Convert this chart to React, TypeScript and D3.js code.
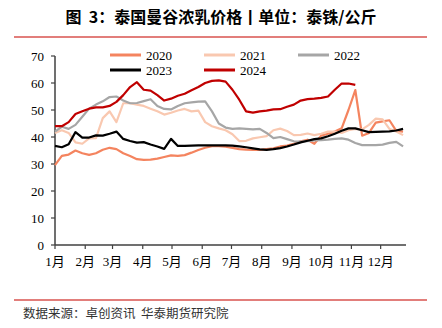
import React from "react";
import * as d3 from "d3";

const months = ["1月", "2月", "3月", "4月", "5月", "6月", "7月", "8月", "9月", "10月", "11月", "12月"];
const yTicks = [0, 10, 20, 30, 40, 50, 60, 70];
const seriesNames = ["2020", "2021", "2022", "2023", "2024"];

// weekly observations, week 0 = Jan 1
const v2020 = [29.6, 33, 33.5, 35, 34, 33.4, 34, 35.3, 36, 35.5, 34, 33, 31.8, 31.5, 31.6, 32, 32.6, 33.2, 33, 33.3, 34.2, 35.2, 36, 36.6, 36.6, 36.4, 36, 35.5, 35.3, 35.2, 35.2, 35.5, 35.8, 36.5, 36.8, 37.5, 38.4, 39, 37.5, 40.5, 41.2, 42, 43.2, 50, 57.4, 40.5, 41.5, 45.3, 45.8, 46.2, 42.3, 42];
const v2021 = [41.5, 42.5, 41.5, 38, 37.5, 39.5, 39.6, 47, 49.5, 45.5, 52.5, 52.5, 52, 51.5, 50.5, 49.5, 48.3, 49, 49.8, 50.4, 49.5, 49.8, 45.5, 44, 43.2, 42.5, 41, 38.5, 38.6, 39.5, 39.9, 40.3, 42.5, 43.1, 42.2, 40.7, 40.8, 41.3, 40.7, 41.2, 42, 42, 41.5, 42.5, 43, 42.8, 44.5, 46.8, 46.5, 43, 42, 40.7];
const v2022 = [42, 43.8, 43, 44.5, 47.5, 50.5, 52, 53.2, 54.8, 55, 53.5, 52.5, 52.6, 53.3, 54, 51.5, 50.4, 50.2, 51.5, 52.5, 52.8, 53.1, 53.2, 49.5, 45, 43.5, 43, 43.2, 43, 42.8, 43, 41.5, 39.6, 40, 39.2, 38.4, 38.3, 38.5, 38.7, 38.8, 39, 39.3, 39.5, 39, 37.8, 37, 37, 37, 37.2, 37.8, 38.2, 36.5];
const v2023 = [36.7, 36.2, 37.3, 41.8, 39.8, 39.8, 40.6, 40.5, 41.2, 42, 39.3, 38.5, 37.9, 38.1, 37.2, 36.5, 35.6, 39.3, 36.7, 36.7, 36.8, 36.9, 36.9, 36.9, 36.9, 36.9, 36.8, 36.5, 36.2, 35.8, 35.4, 35.2, 35.5, 35.9, 36.5, 37.2, 38, 38.6, 39.2, 39.5, 40.3, 41.2, 42.3, 43.2, 43.2, 42.5, 41.8, 41.9, 42, 42.1, 42.4, 43];
const v2024 = [44, 44, 45.5, 48.5, 49.5, 50.5, 51, 51, 51.5, 53, 55.5, 58.5, 60.3, 57.5, 57.2, 55.5, 53.5, 54.2, 55.3, 56, 57.3, 58.5, 60, 60.8, 61, 60.5, 57.5, 53.8, 49.5, 49, 49.5, 49.8, 50.2, 50.3, 51.2, 52, 53.5, 54, 54.2, 54.5, 55, 57.5, 59.8, 59.8, 59.3];

const colors = ["#F4845F", "#F9C8B0", "#A6A6A6", "#000000", "#C00000"];
const allValues = [v2020, v2021, v2022, v2023, v2024];

export default function App() {
  const W = 442, H = 328;
  const x = d3.scaleTime().domain([new Date(2021, 0, 1), new Date(2021, 11, 27)]).range([55, 406]);
  const y = d3.scaleLinear().domain([0, 70]).range([245, 56]);
  const dayDate = (w: number) => d3.timeDay.offset(new Date(2021, 0, 1), w * 7);
  const line = d3.line<number>().x((_, i) => x(dayDate(i))).y((v) => y(v));
  const monthDates = months.map((_, i) => new Date(2021, i, 1));
  const serif = "'Liberation Serif', 'Times New Roman', 'Noto Sans CJK SC', serif";
  const axisColor = "#404040";

  const legendPos = [
    { lx: 110, ly: 55 },
    { lx: 204, ly: 55 },
    { lx: 298, ly: 55 },
    { lx: 110, ly: 70 },
    { lx: 204, ly: 70 },
  ];

  return (
    <svg width={W} height={H} style={{ position: "absolute", left: 0, top: 0, background: "#fff" }}>
      <text x={221} y={23} textAnchor="middle" fontFamily="'Noto Sans CJK SC', sans-serif" fontWeight="bold" fontSize={16} fill="#000" style={{ whiteSpace: "pre" }}>
        {"图  3：泰国曼谷浓乳价格丨单位：泰铢/公斤"}
      </text>
      <line x1={14} x2={427} y1={37} y2={37} stroke="#D9534F" strokeWidth={1.5} />
      <line x1={14} x2={427} y1={300} y2={300} stroke="#D9534F" strokeWidth={1.5} />
      <text x={23} y={318} fontFamily="'Noto Sans CJK SC', sans-serif" fontSize={12.5} fill="#333" style={{ whiteSpace: "pre" }}>
        {"数据来源：卓创资讯  华泰期货研究院"}
      </text>

      {/* axes */}
      <line x1={55} x2={55} y1={y(70)} y2={y(0)} stroke={axisColor} strokeWidth={1.5} />
      {yTicks.map((t) => (
        <g key={t}>
          <line x1={51} x2={55} y1={y(t)} y2={y(t)} stroke={axisColor} strokeWidth={1.2} />
          <text x={44} y={y(t)} dy="0.35em" textAnchor="end" fontFamily={serif} fontSize={13} fill="#000">
            {t}
          </text>
        </g>
      ))}
      <line x1={55} x2={406} y1={y(0)} y2={y(0)} stroke={axisColor} strokeWidth={1.5} />
      {monthDates.map((d, i) => (
        <g key={i}>
          <line x1={x(d)} x2={x(d)} y1={y(0)} y2={y(0) + 4} stroke={axisColor} strokeWidth={1.2} />
          <text x={x(d)} y={266} textAnchor="middle" fontFamily={serif} fontSize={13} fill="#000">
            {months[i]}
          </text>
        </g>
      ))}

      {/* series */}
      {allValues.map((vals, i) => (
        <path key={i} d={line(vals) || ""} fill="none" stroke={colors[i]} strokeWidth={2.2} strokeLinejoin="round" />
      ))}

      {/* legend */}
      {seriesNames.map((n, i) => (
        <g key={n}>
          <line x1={legendPos[i].lx} x2={legendPos[i].lx + 31} y1={legendPos[i].ly} y2={legendPos[i].ly} stroke={colors[i]} strokeWidth={3} />
          <text x={legendPos[i].lx + 36} y={legendPos[i].ly} dy="0.35em" fontFamily={serif} fontSize={13} fill="#000">
            {n}
          </text>
        </g>
      ))}
    </svg>
  );
}
